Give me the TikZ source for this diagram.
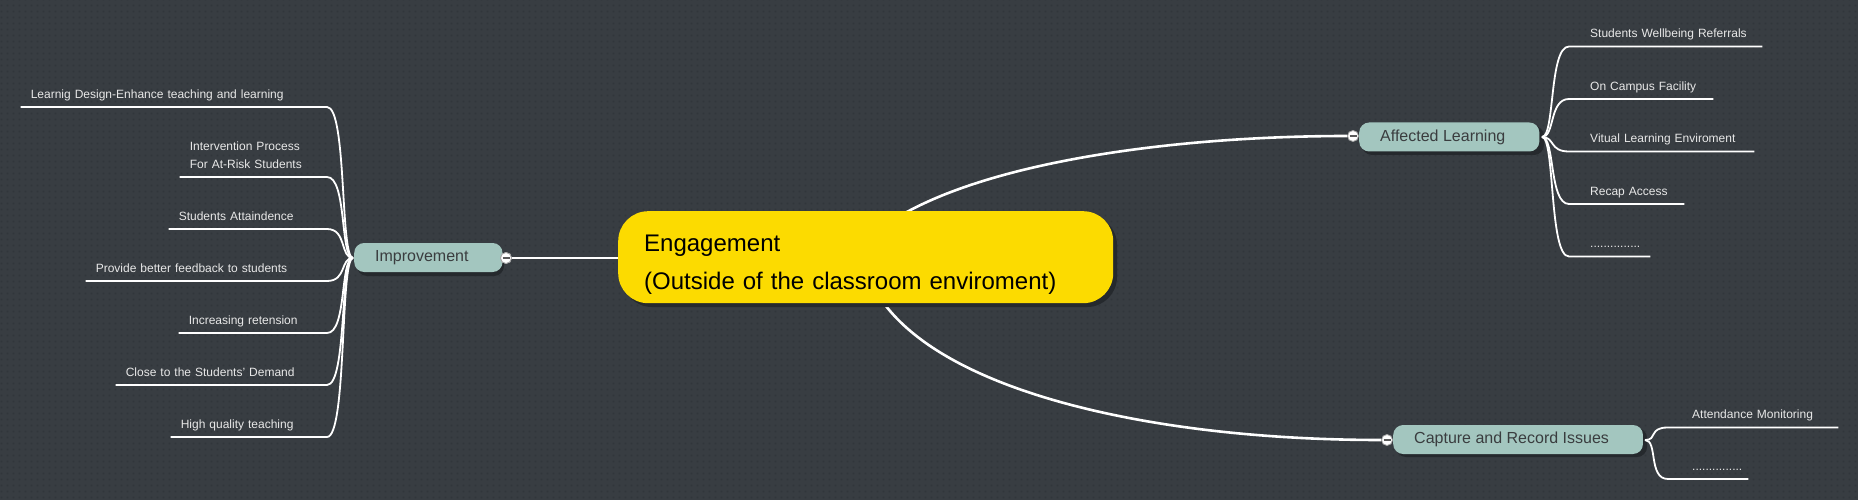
\documentclass[tikz,border=0pt]{standalone}
\usepackage{fontspec}
\setmainfont{Liberation Sans}
\usetikzlibrary{calc,patterns.meta}
\hyphenpenalty=10000
\exhyphenpenalty=10000
\definecolor{bg}{HTML}{383D42}
\definecolor{bgdot}{HTML}{31363B}
\definecolor{shadowc}{HTML}{25292D}
\definecolor{topic}{HTML}{A3C6BF}
\definecolor{topictext}{HTML}{3A3D3F}
\definecolor{central}{HTML}{FCDB00}
\definecolor{leaftext}{HTML}{E8E8E8}
\tikzdeclarepattern{name=bgdots, type=uncolored,
  bounding box={(0pt,0pt) and (6pt,6pt)}, tile size={(6pt,6pt)},
  code={\fill (2pt,2pt) rectangle (4pt,4pt);}}
\tikzset{
  centralbox/.style={fill=central, rounded corners=30pt, text=black,
    font=\fontsize{24pt}{38pt}\selectfont, align=left, text width=443pt,
    inner xsep=26pt, minimum height=92pt, text height=31pt},
  topicbox/.style={fill=topic, rounded corners=10pt, text=topictext,
    font=\fontsize{16pt}{19pt}\selectfont, inner xsep=0pt, inner ysep=0pt,
    minimum height=29pt,
    execute at begin node=\hspace*{21pt},
    execute at end node=\hspace*{34pt}},
  leafL/.style={text=leaftext, font=\fontsize{12pt}{18pt}\selectfont,
    align=left, inner xsep=10pt, inner ysep=6pt, text depth=2.5pt,
    anchor=south east},
  leafR/.style={text=leaftext, font=\fontsize{12pt}{18pt}\selectfont,
    align=left, inner xsep=10pt, inner ysep=6pt, text depth=2.5pt,
    anchor=south west, execute at begin node=\hspace*{#1}},
  leafR/.default=11pt,
  mainline/.style={draw=white, line width=2.6pt},
  leafline/.style={draw=white, line width=1.8pt},
  toggle/.style={circle, fill=white, draw=gray!70, line width=0.8pt,
    minimum size=11pt, inner sep=0pt,
    path picture={\draw[gray!70!black, line width=1.4pt]
      ([xshift=-3.5pt]path picture bounding box.center) --
      ([xshift=3.5pt]path picture bounding box.center);}},
}
\begin{document}
\begin{tikzpicture}[x=1pt,y=-1pt]
\fill[bg] (0,0) rectangle (1858,500);
\useasboundingbox (0,0) rectangle (1858,500);
\fill[pattern=bgdots, pattern color=bgdot] (0,0) rectangle (1858,500);

% topic node shadows
\fill[shadowc, rounded corners=10pt] (357,246) rectangle (504,276);
\fill[shadowc, rounded corners=10pt] (1362,126) rectangle (1544,155);
\fill[shadowc, rounded corners=10pt] (1396,428) rectangle (1647,457);

% topic nodes
\node[topicbox, anchor=west] (imp) at (354,257.5) {Improvement};
\node[topicbox, anchor=west] (aff) at (1359,137) {Affected Learning};
\node[topicbox, anchor=west] (cap) at (1393,439.5) {Capture and Record Issues};

% toggles
\node[toggle] (timp) at (506,258) {};
\node[toggle] (taff) at (1353,136) {};
\node[toggle] (tcap) at (1387,440) {};

% central curves (behind central node)
\coordinate (c1) at (850,258);
\coordinate (c2) at (870,280);
\draw[mainline] (c1) .. controls (915,170) and (1150,136) .. (taff.west);
\draw[mainline] (c2) .. controls (920,390) and (1150,440) .. (tcap.west);

% central node
\fill[shadowc, rounded corners=30pt] (622,215) rectangle (1117,307);
\node[centralbox, anchor=north west, minimum width=495pt] (ctr) at (618,211)
  {Engagement\\(Outside of the classroom enviroment)};
\draw[mainline] (timp.east) -- (ctr.west |- timp.east);
\node[toggle] at (timp) {};

% left leaves (Improvement)
\coordinate (io) at (353,258);
\node[leafL, text width=286pt] (l1) at (327,107) {Learnig Design-Enhance teaching and learning};
\node[leafL, text width=127pt, text depth=20.5pt] (l2) at (327,177) {Intervention Process\\For At-Risk Students};
\node[leafL, text width=138pt] (l3) at (327,229) {Students Attaindence};
\node[leafL, text width=221pt] (l4) at (327,281) {Provide better feedback to students};
\node[leafL, text width=128pt] (l5) at (327,333) {Increasing retension};
\node[leafL, text width=191pt] (l6) at (327,385) {Close to the Students' Demand};
\node[leafL, text width=136pt] (l7) at (327,437) {High quality teaching};
\foreach \n in {l1,l2,l3,l4,l5,l6,l7} {
  \draw[leafline] (io) .. controls ($(io)+(-13,0)$) and ($(\n.south east)+(20,0)$)
    .. (\n.south east) -- (\n.south west);
}

% right leaves (Affected Learning)
\coordinate (ao) at (1542,137);
\node[leafR, text width=173pt] (r1) at (1569,46.5) {Students Wellbeing Referrals};
\node[leafR, text width=124pt] (r2) at (1569,99) {On Campus Facility};
\node[leafR, text width=165pt] (r3) at (1569,151.5) {Vitual Learning Enviroment};
\node[leafR, text width=95pt] (r4) at (1569,204) {Recap Access};
\node[leafR, text width=61pt] (r5) at (1569,256.5) {...............};
\foreach \n in {r1,r2,r3,r4,r5} {
  \draw[leafline] (ao) .. controls ($(ao)+(13,0)$) and ($(\n.south west)+(-20,0)$)
    .. (\n.south west) -- (\n.south east);
}

% right leaves (Capture)
\coordinate (co) at (1645,440);
\node[leafR=14pt, text width=150pt] (s1) at (1668,427.5) {Attendance Monitoring};
\node[leafR=14pt, text width=60pt] (s2) at (1668,479) {...............};
\foreach \n in {s1,s2} {
  \draw[leafline] (co) .. controls ($(co)+(13,0)$) and ($(\n.south west)+(-20,0)$)
    .. (\n.south west) -- (\n.south east);
}
\end{tikzpicture}
\end{document}
